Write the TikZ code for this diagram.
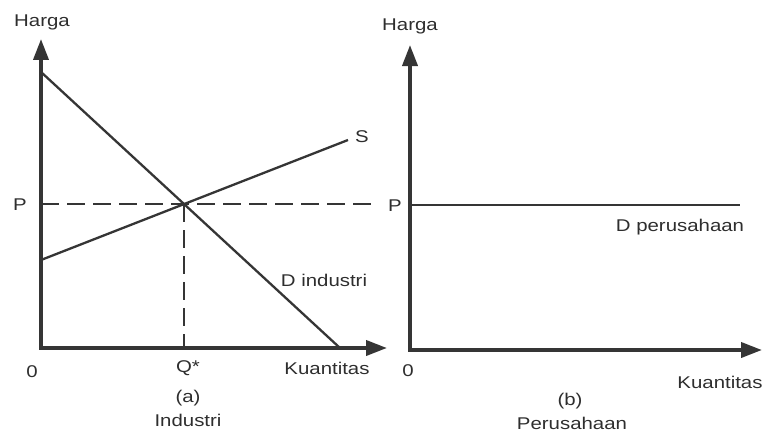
\documentclass[tikz,border=0pt]{standalone}
\usepackage{fontspec}
\setmainfont{Liberation Sans}
\usetikzlibrary{arrows.meta,calc}
\newcommand{\tx}[1]{\scalebox{1.2}[1]{#1}}
\definecolor{ink}{HTML}{353535}
\definecolor{txt}{HTML}{2E2E2E}
\tikzset{
  axisline/.style={draw=ink, line width=3.8pt, line join=miter,
    {Triangle[length=21pt,width=15pt]}-{Triangle[length=21pt,width=15pt]}},
  curveline/.style={draw=ink, line width=2.3pt},
  dashline/.style={draw=ink, line width=2.7pt, dash pattern=on 18pt off 8pt},
  lbl/.style={text=txt, inner sep=0pt, font=\fontsize{17}{20}\selectfont},
}
\begin{document}
\begin{tikzpicture}[x=1pt,y=-1pt]
\useasboundingbox (0,0) rectangle (765,436);
% ---- panel (a)
\coordinate (Ya) at (41,39);
\coordinate (Oa) at (41,348);
\coordinate (Xa) at (387,348);
\coordinate (Dsa) at (41,72);
\coordinate (Dea) at (340,348);
\coordinate (Ssa) at (41,260);
\coordinate (Sea) at (348,140);
\coordinate (E) at (intersection of Dsa--Dea and Ssa--Sea);
\coordinate (Pa) at (Oa |- E);
\coordinate (Pend) at (378,0 |- E);
\coordinate (Qa) at (E |- Oa);
\draw[dashline] (Pa) -- (Pend);
\draw[dashline] (E) -- (Qa);
\draw[curveline] (Dsa) -- (Dea);
\draw[curveline] (Ssa) -- (Sea);
\draw[axisline] (Ya) -- (Oa) -- (Xa);
\node[lbl] (harga1) at (42,22) {\tx{Harga}};
\node[lbl] (p1) at (20,205) {\tx{P}};
\node[lbl] (zero1) at (32,372) {\tx{0}};
\node[lbl] (qstar) at (188,368) {\tx{Q*}};
\node[lbl] (kuan1) at (327,368) {\tx{Kuantitas}};
\node[lbl] (sl) at (362,137) {\tx{S}};
\node[lbl] (dind) at (324,280) {\tx{D industri}};
\node[lbl] (a) at (188,398) {\tx{(a)}};
\node[lbl] (ind) at (188,420) {\tx{Industri}};
% ---- panel (b)
\coordinate (Yb) at (410,45);
\coordinate (Ob) at (410,350);
\coordinate (Xb) at (762,350);
\coordinate (Pb) at (410,205);
\coordinate (Pbe) at (740,205);
\draw[curveline] (Pb) -- (Pbe);
\draw[axisline] (Yb) -- (Ob) -- (Xb);
\node[lbl] (harga2) at (410,26) {\tx{Harga}};
\node[lbl] (p2) at (395,206) {\tx{P}};
\node[lbl] (dper) at (680,227) {\tx{D perusahaan}};
\node[lbl] (zero2) at (408,371) {\tx{0}};
\node[lbl] (kuan2) at (720,382) {\tx{Kuantitas}};
\node[lbl] (b) at (570,401) {\tx{(b)}};
\node[lbl] (per) at (572,423) {\tx{Perusahaan}};
\end{tikzpicture}
\end{document}
